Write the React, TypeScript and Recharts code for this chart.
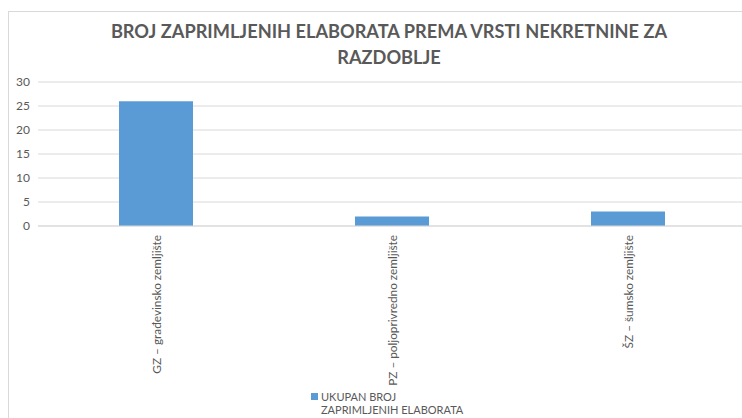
import * as React from "react";
import { BarChart, Bar, XAxis, YAxis, CartesianGrid, Legend } from "recharts";

const categories = ["GZ – građevinsko zemljište", "PZ – poljoprivredno zemljište", "ŠZ – šumsko zemljište"];
const counts = [26, 2, 3];
const yTicks = [0, 5, 10, 15, 20, 25, 30];
const seriesLines = ["UKUPAN BROJ", "ZAPRIMLJENIH ELABORATA"];
const titleLines = ["BROJ ZAPRIMLJENIH ELABORATA PREMA VRSTI NEKRETNINE ZA", "RAZDOBLJE"];

const data = categories.map((name, i) => ({ name, value: counts[i] }));

const TEXT = "#595959";
const GRID = "#d9d9d9";
const BAR = "#5b9bd5";
const FONT = "Lato, 'Open Sans', sans-serif";

function CategoryTick(props: any) {
  const { x, y, payload } = props;
  return (
    <text
      x={x}
      y={y}
      transform={`rotate(-90, ${x}, ${y})`}
      textAnchor="end"
      dominantBaseline="central"
      fill={TEXT}
      fontSize={11.8}
      fontFamily={FONT}
    >
      {payload.value}
    </text>
  );
}

function LegendBox() {
  return (
    <div style={{ display: "flex", alignItems: "flex-start", fontFamily: FONT, fontSize: 11, color: TEXT, lineHeight: "13px" }}>
      <span style={{ width: 7, height: 7, background: BAR, marginTop: 3, marginRight: 3, flex: "none" }} />
      <span style={{ whiteSpace: "nowrap" }}>
        {seriesLines.map((l) => (
          <div key={l}>{l}</div>
        ))}
      </span>
    </div>
  );
}

export default function App() {
  return (
    <div style={{ position: "fixed", left: 0, top: 0, width: 742, height: 418, overflow: "hidden", background: "#fff" }}>
      <div style={{ position: "absolute", left: 8, top: 11, width: 760, height: 440, border: `1px solid ${GRID}` }}>
        <div
          style={{
            position: "absolute",
            left: 0,
            top: 6,
            width: 760,
            textAlign: "center",
            fontFamily: FONT,
            fontWeight: 700,
            fontSize: 18.2,
            lineHeight: "26px",
            color: TEXT,
          }}
        >
          {titleLines.map((l) => (
            <div key={l}>{l}</div>
          ))}
        </div>
        <BarChart width={760} height={440} data={data} margin={{ top: 70, right: 23, left: 0, bottom: 20 }}>
          <CartesianGrid vertical={false} stroke={GRID} />
          <XAxis
            dataKey="name"
            height={180}
            interval={0}
            axisLine={{ stroke: GRID }}
            tickLine={false}
            tickSize={0}
            tick={<CategoryTick />}
            tickMargin={9}
          />
          <YAxis
            width={29}
            domain={[0, 30]}
            ticks={yTicks}
            interval={0}
            axisLine={false}
            tickLine={false}
            tickSize={0}
            tickMargin={8}
            tick={{ fill: TEXT, fontSize: 12, fontFamily: FONT }}
          />
          <Legend
            content={<LegendBox />}
            wrapperStyle={{ position: "absolute", left: 302, top: 378, width: 200, height: 26 }}
          />
          <Bar dataKey="value" fill={BAR} barSize={74} isAnimationActive={false} />
        </BarChart>
      </div>
    </div>
  );
}
